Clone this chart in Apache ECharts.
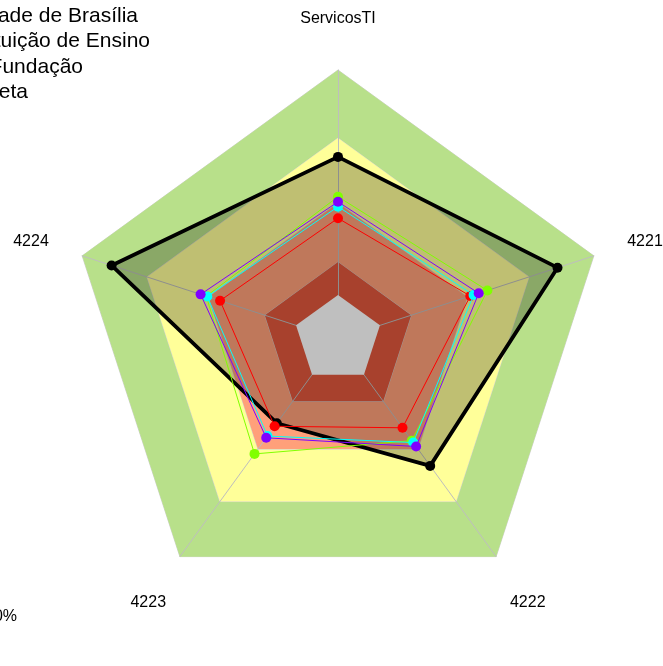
<!DOCTYPE html>
<html><head><meta charset="utf-8">
<script src="https://cdn.jsdelivr.net/npm/echarts@6/dist/echarts.min.js"></script>
<style>html,body{margin:0;padding:0;background:#fff;overflow:hidden}#c{width:663px;height:666px}</style>
</head><body><div id="c"></div>
<script>
// axes in clockwise order starting at the top
const axes = ['ServicosTI', '4221', '4222', '4223', '4224'];
// background bands (value levels, outer to inner) and colours
const bandLevels = [100, 74.7, 50.6, 28.6];
const bandColors = ['#B8E08A', '#FFFF99', '#FFA07A', '#E0573C'];
// inner empty core (axes start at its edge)
const coreLevel = 16.4;
// series values (clockwise order, same as axes)
const metaValues   = [67.7, 85.8, 58.3, 38.7, 88.5];
const redValues    = [44.9, 51.7, 40.8, 40.1, 46.1];
const limeValues   = [52.9, 58.4, 46.7, 52.8, 51.5];
const cyanValues   = [49.2, 53.0, 47.6, 44.6, 51.1];
const purpleValues = [51.0, 55.0, 49.4, 45.4, 53.7];
const legendTexts = ['Universidade de Brasília', 'Instituição de Ensino', 'Fundação', 'Meta'];
const captionText = '100%';

const cx = 338, cy = 339, R = 269;
const chart = echarts.init(document.getElementById('c'), null, {renderer: 'canvas'});
// ECharts radar runs counter-clockwise; reorder so the picture runs clockwise
const reorder = v => [v[0], v[4], v[3], v[2], v[1]];
const indicator = reorder(axes).map(n => ({name: n, min: 0, max: 100}));

const series = [];
bandLevels.forEach((lv, i) => {
  series.push({
    type: 'radar', z: 1, silent: true, symbol: 'none',
    lineStyle: {color: '#D2D2D2', width: 1},
    areaStyle: {color: bandColors[i], opacity: 1},
    data: [{value: reorder(axes.map(() => lv))}]
  });
});
series.push({
  type: 'radar', z: 2.5, silent: true, symbol: 'none',
  lineStyle: {width: 0, color: '#fff'},
  areaStyle: {color: '#FFFFFF', opacity: 1},
  data: [{value: reorder(axes.map(() => coreLevel))}]
});
function dataSeries(name, vals, color, width, area, z) {
  return {
    type: 'radar', name: name, z: z, symbol: 'circle', symbolSize: 10,
    itemStyle: {color: color},
    lineStyle: {color: color, width: width},
    areaStyle: area ? {color: area, opacity: 1} : undefined,
    data: [{value: reorder(vals)}]
  };
}
series.push(dataSeries('Meta', metaValues, '#000000', 3.8, 'rgba(0,0,0,0.25)', 3));
series.push(dataSeries('s1', redValues, '#FF0000', 1, null, 4));
series.push(dataSeries('s2', limeValues, '#80FF00', 1, null, 5));
series.push(dataSeries('s3', cyanValues, '#00FFFF', 1, null, 6));
series.push(dataSeries('s4', purpleValues, '#8000FF', 1, null, 7));

const graphics = [];
axes.forEach((a, i) => {
  const ang = (90 - 72 * i) * Math.PI / 180;
  graphics.push({type: 'text', x: cx + 1.2 * R * Math.cos(ang), y: cy - 1.2 * R * Math.sin(ang) + 2,
    style: {text: a, font: '16px "Liberation Sans", Arial, sans-serif', fill: '#000',
      textAlign: 'center', textVerticalAlign: 'middle'}});
});
const legRight = [138, 150, 83, 28];
legendTexts.forEach((t, i) => {
  graphics.push({type: 'text', x: legRight[i], y: 16 + 25.4 * i,
    style: {text: t, font: '21px "Liberation Sans", Arial, sans-serif', fill: '#000',
      textAlign: 'right', textVerticalAlign: 'middle'}});
});
graphics.push({type: 'text', x: 17, y: 617,
  style: {text: captionText, font: '16px "Liberation Sans", Arial, sans-serif', fill: '#000',
    textAlign: 'right', textVerticalAlign: 'middle'}});

chart.setOption({
  animation: false,
  backgroundColor: '#fff',
  radar: {
    center: [cx, cy], radius: R, startAngle: 90, shape: 'polygon', z: 2,
    indicator: indicator,
    axisName: {show: false},
    axisLine: {show: true, lineStyle: {color: '#BEBEBE', width: 1}},
    splitLine: {show: false}, splitArea: {show: false},
    axisTick: {show: false}, axisLabel: {show: false}
  },
  series: series,
  graphic: graphics
});
</script></body></html>
